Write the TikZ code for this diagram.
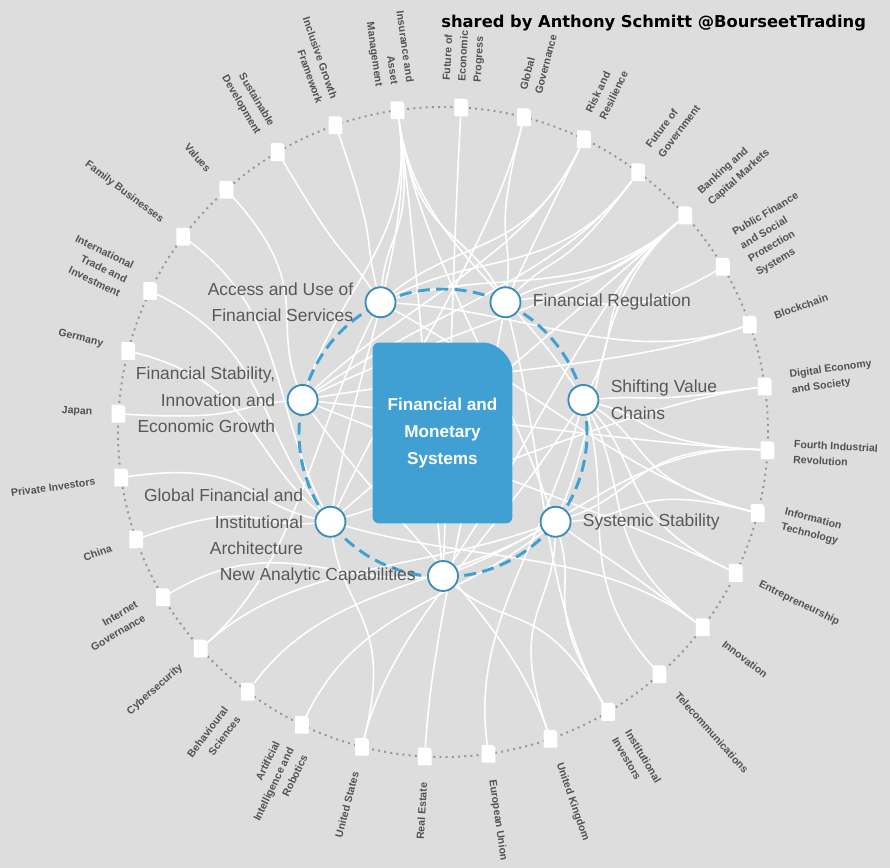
\documentclass[tikz,border=0pt]{standalone}
\usepackage{fontspec}
\setmainfont{Liberation Sans}
\newfontfamily\creditfont{DejaVu Sans}
\usepackage{tikz}
\usetikzlibrary{calc}

\definecolor{bgc}{RGB}{221,221,221}
\definecolor{corecol}{RGB}{64,160,212}
\definecolor{hubline}{RGB}{60,140,185}
\definecolor{labgray}{RGB}{88,88,88}
\definecolor{outgray}{RGB}{82,82,82}
\definecolor{dotgray}{RGB}{150,150,150}

\pgfdeclarelayer{bg}
\pgfdeclarelayer{edges}
\pgfsetlayers{bg,edges,main}

\tikzset{
  outbox/.style={inner sep=0pt, minimum width=0.33cm, minimum height=0.43cm},
  outlab/.style={inner sep=0pt, text=outgray, font=\fontsize{7.5}{11}\selectfont\bfseries},
  hub/.style={circle, fill=white, draw=hubline, line width=1.3pt, minimum size=0.75cm, inner sep=0pt},
  hublab/.style={inner sep=0pt, text=labgray, font=\fontsize{12.4}{18.8}\selectfont},
  labL/.style={hublab, align=right, xshift=-0.28cm},
  labR/.style={hublab, align=left, xshift=0.28cm},
  coretext/.style={text=white, align=center, font=\fontsize{12.2}{19.2}\selectfont\bfseries},
  link/.style={draw=white, line width=1.1pt},
  orbit/.style={draw=dotgray, line width=1.4pt, dash pattern=on 1.4pt off 3pt},
  ring/.style={draw=corecol, line width=2.1pt, dash pattern=on 8.5pt off 4.6pt},
}

\begin{document}
\begin{tikzpicture}[x=0.025cm, y=0.025cm]
    \useasboundingbox (-443,-436) rectangle (447,432);
    \begin{pgfonlayer}{bg}
      \fill[bgc] (-443,-436) rectangle (447,432);
    \end{pgfonlayer}
    \coordinate (ctr) at (0,0);
    % Rings
    \draw[orbit] (ctr) circle (325);
    \draw[ring] (0,-1) circle (144);
    % Core
    \node[outbox, minimum width=3.475cm, minimum height=4.5cm] (core) at (-0.5,-1) {};
    \fill[corecol, rounded corners=4.3pt] (core.south west) -- (core.north west) -- ([xshift=-24pt]core.north east) arc[start angle=90, end angle=0, radius=24pt] -- (core.south east) -- cycle;
    \node[coretext] (coretxt) at (core) {Financial and\\Monetary\\Systems};
    %
    % Inner topics:
    \node[hub, label={[labL]left:{New Analytic Capabilities}}] (analytic) at (-90:144) {};
    \node[hub, label={[labR]right:{Systemic Stability}}] (systab) at (-38.57:144) {};
    \node[hub, label={[labR]right:{Shifting Value\\Chains}}] (shift) at (12.86:144) {};
    \node[hub, label={[labR]right:{Financial Regulation}}] (regul) at (64.29:144) {};
    \node[hub, label={[labL]left:{Access and Use of\\Financial Services}}] (access) at (115.71:144) {};
    \node[hub, label={[labL]left:{Financial Stability,\\Innovation and\\Economic Growth}}] (finstab) at (167.14:144) {};
    \node[hub, label={[labL]left:{Global Financial and\\Institutional\\Architecture}}] (global) at (218.57:144) {};
    %
    % Outer topics, right half
    \foreach \k/\nm/\txt in {0/fep/{Future of\\Economic\\Progress}, 1/glgov/{Global\\Governance},
        2/risk/{Risk and\\Resilience}, 3/fgov/{Future of\\Government}, 4/bank/{Banking and\\Capital Markets},
        5/pubfin/{Public Finance\\and Social\\Protection\\Systems}, 6/block/{Blockchain},
        7/digit/{Digital Economy\\and Society}, 8/fourth/{Fourth Industrial\\Revolution},
        9/infotech/{Information\\Technology}, 10/entre/{Entrepreneurship}, 11/innov/{Innovation},
        12/telco/{Telecommunications}, 13/instinv/{Institutional\\Investors}, 14/uk/{United Kingdom},
        15/eu/{European Union}}{
      \pgfmathsetmacro\ang{86.8-11.25*\k}
      \node[outbox] (\nm) at (\ang:325) {};
      \fill[white, rounded corners=0.5pt] (\nm.south west) -- (\nm.north west) -- ([xshift=-2.8pt]\nm.north east) arc[start angle=90, end angle=0, radius=2.8pt] -- (\nm.south east) -- cycle;
      \node[outlab, anchor=west, align=left, rotate=\ang] (\nm-t) at (\ang:351) {\txt};
    }
    % Outer topics, left half
    \foreach \k/\nm/\txt in {16/realest/{Real Estate}, 17/us/{United States},
        18/airob/{Artificial\\Intelligence and\\Robotics}, 19/behav/{Behavioural\\Sciences},
        20/cyber/{Cybersecurity}, 21/netgov/{Internet\\Governance}, 22/china/{China},
        23/privinv/{Private Investors}, 24/japan/{Japan}, 25/germany/{Germany},
        26/trade/{International\\Trade and\\Investment}, 27/family/{Family Businesses},
        28/values/{Values}, 29/sustain/{Sustainable\\Development},
        30/inclus/{Inclusive Growth\\Framework}, 31/insur/{Insurance and\\Asset\\Management}}{
      \pgfmathsetmacro\ang{86.8-11.25*\k}
      \pgfmathsetmacro\rot{\ang+180}
      \node[outbox] (\nm) at (\ang:325) {};
      \fill[white, rounded corners=0.5pt] (\nm.south west) -- (\nm.north west) -- ([xshift=-2.8pt]\nm.north east) arc[start angle=90, end angle=0, radius=2.8pt] -- (\nm.south east) -- cycle;
      \node[outlab, anchor=east, align=right, rotate=\rot] (\nm-t) at (\ang:351) {\txt};
    }
    %
    % Links:
    \begin{pgfonlayer}{edges}
    \foreach \o/\i in {insur/access, insur/finstab, insur/global, insur/regul, insur/shift, insur/systab, insur/analytic,
        inclus/access, sustain/access, values/finstab, family/global, trade/global, germany/global,
        japan/finstab, privinv/global, china/global, netgov/analytic, cyber/access, cyber/systab,
        behav/systab, airob/systab, us/global, us/shift, realest/regul, eu/shift, uk/finstab, uk/systab,
        instinv/analytic, instinv/systab, instinv/regul, telco/shift, innov/systab, innov/shift, innov/global,
        entre/shift, entre/finstab, infotech/systab, infotech/shift, infotech/access,
        fourth/shift, fourth/finstab, fourth/analytic, fourth/systab, digit/shift, digit/global,
        block/finstab, block/access, pubfin/regul,
        bank/access, bank/regul, bank/finstab, bank/global, bank/analytic, bank/systab, bank/shift,
        fgov/regul, fgov/finstab, fgov/access, risk/regul, risk/access, risk/finstab,
        glgov/regul, glgov/global, fep/analytic}
      \draw[link] (\o) .. controls ($(\o)!0.4!(ctr)$) and ($(\i)!0.4!(\o)$) .. (\i);
    \end{pgfonlayer}
    %
    \node[anchor=east, font=\creditfont\bfseries\fontsize{11.6}{13}\selectfont] (credit) at (428,409) {shared by Anthony Schmitt @BourseetTrading};
\end{tikzpicture}
\end{document}
